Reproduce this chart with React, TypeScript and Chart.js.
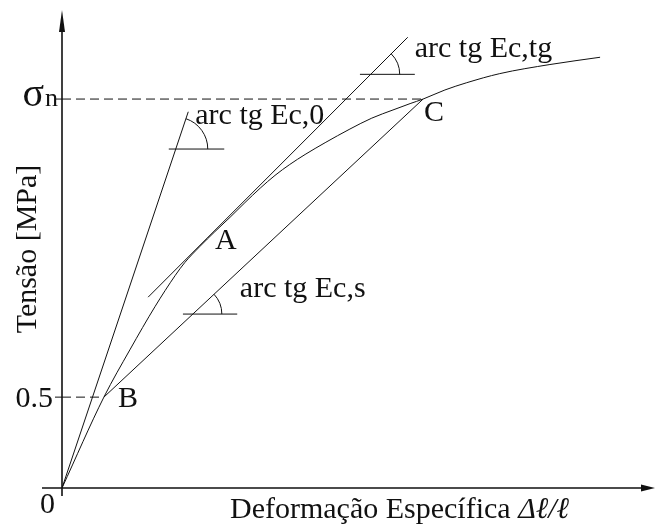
import React, { useEffect, useRef } from "react";
import { Chart, registerables } from "chart.js";

Chart.register(...registerables);

// Axis ranges (strain in arbitrary units, stress in MPa)
const X_MAX = 10;
const Y_MAX = 2.63;
const SIGMA_N = 2.14;
const STRESS_B = 0.5;

// Stress–strain curve of the concrete specimen
const curveStrain = [0, 0.71, 1.15, 1.58, 1.92, 2.08, 2.34, 2.59, 2.85, 3.1, 3.36, 3.61, 3.86, 4.12, 4.46, 4.88, 5.25, 5.61, 5.9, 6.12, 6.49, 6.86, 7.42, 8.27, 9.12];
const curveStress = [0, 0.5, 0.76, 1.0, 1.17, 1.24, 1.33, 1.41, 1.49, 1.57, 1.65, 1.72, 1.78, 1.835, 1.9, 1.975, 2.035, 2.08, 2.115, 2.14, 2.19, 2.23, 2.28, 2.33, 2.37];

// Named points on the curve
const pointA = [2.34, 1.33];
const pointB = [0.71, STRESS_B];
const pointC = [6.12, SIGMA_N];

// Modulus lines: initial tangent, tangent at A, secant B–C
const initialTangent = [[0, 0], [2.14, 2.07]];
const tangentAtA = [[1.46, 1.05], [5.86, 2.48]];
const secantBC = [pointB, pointC];

// Angle markers: horizontal reference stub at a stress level, and the line it measures
const markLabels = ["arc tg Ec,0", "arc tg Ec,tg", "arc tg Ec,s"];
const markLines = [initialTangent, tangentAtA, secantBC];
const markLevels = [1.865, 2.276, 0.957];
const markFrom = [1.81, 5.05, 2.05];
const markTo = [2.75, 5.98, 2.97];

const xTitle = "Deformação Específica ";
const xTitleSymbol = "Δℓ/ℓ";
const yTitle = "Tensão [MPa]";
const yTickLabels = ["0.5"];

const FONT = '"Liberation Serif", "Times New Roman", serif';
const INK = "#111";

const lineDs = (pts: number[][], dash: number[] = []) => ({
  data: pts.map(([x, y]) => ({ x, y })),
  showLine: true,
  borderColor: INK,
  borderWidth: 1,
  borderDash: dash,
  pointRadius: 0,
  tension: 0,
});

const diagramPlugin = {
  id: "diagramPlugin",
  afterDatasetsDraw(chart: any) {
    const { ctx, scales } = chart;
    const xs = scales.x;
    const ys = scales.y;
    const px = (v: number) => xs.getPixelForValue(v);
    const py = (v: number) => ys.getPixelForValue(v);
    const x0 = px(0);
    const y0 = py(0);
    const right = chart.chartArea.right;
    const top = chart.chartArea.top;

    ctx.save();
    ctx.strokeStyle = INK;
    ctx.fillStyle = INK;

    // axes with arrow heads
    ctx.lineWidth = 1.6;
    ctx.beginPath();
    ctx.moveTo(x0, y0 + 8);
    ctx.lineTo(x0, top + 14);
    ctx.moveTo(x0 - 20, y0);
    ctx.lineTo(right - 8, y0);
    ctx.stroke();
    ctx.beginPath();
    ctx.moveTo(x0, top);
    ctx.lineTo(x0 - 3, top + 22);
    ctx.lineTo(x0 + 3, top + 22);
    ctx.closePath();
    ctx.fill();
    ctx.beginPath();
    ctx.moveTo(right + 3, y0);
    ctx.lineTo(right - 11, y0 - 3.5);
    ctx.lineTo(right - 11, y0 + 3.5);
    ctx.closePath();
    ctx.fill();

    // y tick marks
    ctx.lineWidth = 1;
    ctx.beginPath();
    [STRESS_B, SIGMA_N].forEach((v) => {
      ctx.moveTo(x0 - 7, py(v));
      ctx.lineTo(x0, py(v));
    });
    ctx.stroke();

    // angle arcs
    markLines.forEach((ln, i) => {
      const [[ax, ay], [bx, by]] = ln;
      const lvl = markLevels[i];
      const ix = ax + ((lvl - ay) * (bx - ax)) / (by - ay);
      const cx = px(ix);
      const cy = py(lvl);
      const ang = Math.atan2(py(by) - py(ay), px(bx) - px(ax));
      ctx.beginPath();
      ctx.arc(cx, cy, i === 0 ? 32 : 29, ang, 0);
      ctx.stroke();
    });

    // texts
    ctx.textBaseline = "alphabetic";
    ctx.font = `30px ${FONT}`;
    ctx.textAlign = "left";
    ctx.fillText(markLabels[0], px(initialTangent[1][0]) + 7, py(initialTangent[1][1]) + 12);
    ctx.fillText(markLabels[1], px(tangentAtA[1][0]) + 7, py(tangentAtA[1][1]) + 20);
    {
      const [[ax, ay], [bx, by]] = secantBC;
      const lvl = markLevels[2];
      const ix = ax + ((lvl - ay) * (bx - ax)) / (by - ay);
      ctx.fillText(markLabels[2], px(ix) + 47, py(lvl) - 17);
    }
    ctx.fillText("A", px(pointA[0]) + 15, py(pointA[1]) + 3);
    ctx.fillText("B", px(pointB[0]) + 14, py(pointB[1]) + 10);
    ctx.fillText("C", px(pointC[0]) + 1, py(pointC[1]) + 22);

    ctx.textAlign = "right";
    ctx.fillText(yTickLabels[0], x0 - 9, py(STRESS_B) + 10);
    ctx.fillText("0", x0 - 7, y0 + 25);

    // σn label
    ctx.font = `26px ${FONT}`;
    const nW = ctx.measureText("n").width;
    ctx.fillText("n", x0 - 4, py(SIGMA_N) + 7);
    ctx.font = `40px ${FONT}`;
    ctx.fillText("σ", x0 - 5 - nW, py(SIGMA_N) + 7);

    // axis titles
    ctx.font = `30px ${FONT}`;
    ctx.textAlign = "left";
    const tx = 230;
    ctx.fillText(xTitle, tx, y0 + 30);
    const w = ctx.measureText(xTitle).width;
    ctx.font = `italic 30px ${FONT}`;
    ctx.fillText(xTitleSymbol, tx + w, y0 + 30);

    ctx.font = `30px ${FONT}`;
    ctx.translate(36, (top + y0) / 2);
    ctx.rotate(-Math.PI / 2);
    ctx.textAlign = "center";
    ctx.fillText(yTitle, 0, 0);
    ctx.restore();
  },
};

export default function App() {
  const ref = useRef<HTMLCanvasElement>(null);

  useEffect(() => {
    if (!ref.current) return;
    const curve = {
      ...lineDs(curveStrain.map((x, i) => [x, curveStress[i]])),
      cubicInterpolationMode: "monotone",
    };
    const datasets: any[] = [
      curve,
      lineDs(initialTangent),
      lineDs(tangentAtA),
      lineDs(secantBC),
      ...markLevels.map((lvl, i) => lineDs([[markFrom[i], lvl], [markTo[i], lvl]])),
      lineDs([[0, SIGMA_N], pointC], [9, 5]),
      lineDs([[0, STRESS_B], pointB], [9, 5]),
    ];
    const chart = new Chart(ref.current, {
      type: "scatter",
      data: { datasets },
      options: {
        animation: false,
        responsive: false,
        devicePixelRatio: 1,
        layout: { padding: { left: 62, right: 4, top: 10, bottom: 36 } },
        plugins: { legend: { display: false }, tooltip: { enabled: false } },
        scales: {
          x: { type: "linear", min: 0, max: X_MAX, display: false },
          y: { type: "linear", min: 0, max: Y_MAX, display: false },
        },
      },
      plugins: [diagramPlugin],
    });
    return () => chart.destroy();
  }, []);

  return (
    <div style={{ position: "fixed", left: 0, top: 0, width: 656, height: 524, background: "#fff" }}>
      <canvas ref={ref} width={656} height={524} style={{ display: "block" }} />
    </div>
  );
}
